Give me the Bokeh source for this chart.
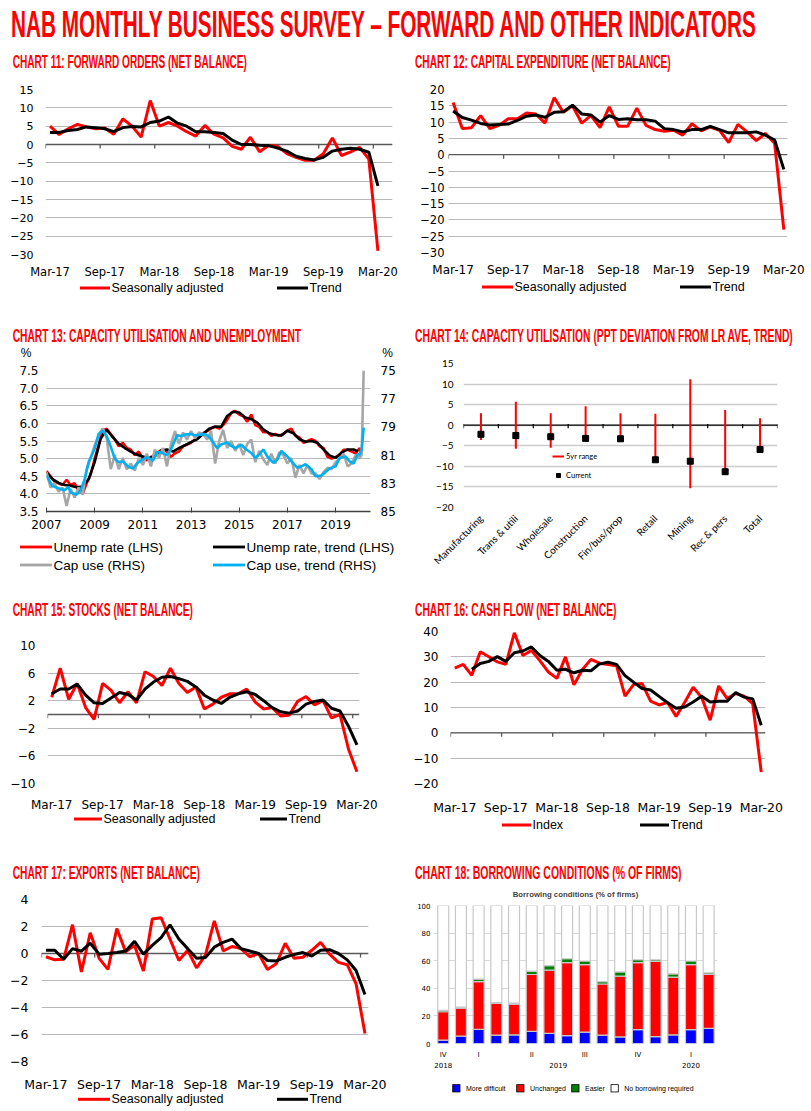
import math
import numpy as np
import pandas as pd
from bokeh.plotting import figure
from bokeh.models import (Range1d, LinearAxis, FixedTicker, Span, Legend, LegendItem,
                          Div, ColumnDataSource, NumeralTickFormatter)
from bokeh.layouts import column, row
from bokeh.embed import file_html
from bokeh.resources import INLINE

# ------------------------------------------------------------------ data
months = list(pd.date_range("2017-03-01", periods=37, freq="MS").strftime("%b-%y"))

fwd_sa = [5.0, 2.7, 4.3, 5.5, 4.8, 4.3, 4.5, 2.8, 7.0, 5.0,
          2.0, 12.0, 5.0, 6.0, 5.0, 3.5, 2.3, 5.2, 2.8, 1.8,
          -0.5, -1.3, 2.0, -2.0, -0.3, -0.5, -2.5, -3.5, -4.3, -4.3,
          -2.5, 1.8, -3.0, -2.0, -0.8, -4.0, -29.0]
fwd_trend = [3.3, 3.3, 3.8, 4.1, 4.8, 4.6, 4.3, 3.5, 4.6, 4.9,
             4.8, 6.0, 6.4, 7.5, 5.8, 5.0, 3.5, 3.5, 3.3, 3.0,
             1.2, 0.0, 0.0, -0.2, -0.3, -1.0, -1.8, -3.2, -3.8, -4.2,
             -3.5, -1.8, -1.3, -1.0, -1.3, -2.1, -11.3]

capex_sa = [16.0, 8.0, 8.3, 12.0, 8.0, 9.0, 11.0, 11.0, 12.8, 12.5,
            9.7, 17.5, 13.0, 15.0, 9.7, 12.0, 8.3, 14.7, 8.7, 8.7,
            14.3, 9.0, 7.7, 7.2, 7.5, 6.0, 9.5, 7.3, 8.5, 7.5,
            3.7, 9.3, 7.0, 4.3, 6.5, 3.5, -23.0]
capex_trend = [13.4, 11.4, 10.6, 9.6, 9.1, 9.3, 9.4, 10.5, 11.8, 12.2,
               11.5, 13.0, 13.2, 15.2, 12.5, 12.2, 10.0, 12.0, 10.8, 11.0,
               10.7, 10.7, 10.3, 8.0, 7.7, 7.0, 7.7, 7.7, 8.7, 7.7,
               6.7, 6.7, 6.7, 7.0, 6.0, 4.5, -4.5]

stocks_sa = [2.5, 6.7, 2.2, 4.5, 1.0, -0.7, 4.5, 3.5, 1.7, 3.3,
             1.7, 6.2, 5.5, 4.2, 6.7, 4.5, 3.2, 4.0, 0.8, 1.5,
             2.5, 3.0, 3.0, 3.7, 1.8, 0.8, 1.0, -0.2, -0.1, 1.9,
             2.6, 1.4, 2.0, -0.5, 0.0, -5.0, -8.3]
stocks_trend = [3.0, 3.7, 3.7, 4.4, 2.8, 1.7, 1.6, 2.4, 3.2, 2.9,
                2.1, 3.7, 4.7, 5.4, 5.5, 5.2, 4.8, 4.0, 2.8, 2.1,
                1.6, 2.5, 3.0, 3.3, 2.9, 2.0, 1.0, 0.4, 0.2, 0.5,
                1.5, 1.9, 2.1, 0.9, 0.5, -1.7, -4.4]

cash_index = [25.5, 27.0, 22.7, 32.0, 30.0, 28.0, 27.0, 39.5, 30.5, 32.5,
              28.5, 24.0, 21.5, 30.0, 19.0, 25.0, 29.0, 27.5, 27.0, 26.5,
              14.5, 19.0, 19.5, 12.5, 11.0, 12.0, 6.5, 12.0, 18.0, 14.0,
              5.0, 18.5, 13.5, 15.5, 14.5, 11.5, -15.5]
cash_trend = [np.nan, np.nan, 25.1, 27.4, 28.2, 30.1, 28.2, 31.6, 32.3, 33.9,
              30.5, 28.2, 24.7, 25.1, 23.7, 24.7, 24.5, 27.2, 27.9, 27.0,
              22.6, 20.0, 17.5, 16.9, 14.4, 11.9, 9.7, 10.2, 12.2, 14.4,
              12.2, 12.5, 12.5, 15.9, 14.1, 13.4, 3.0]

exports_sa = [-0.24, -0.47, -0.43, 2.13, -1.37, 1.54, -0.36, -1.18, 1.85, 0.12,
              0.6, -1.3, 2.56, 2.65, 1.07, -0.52, 0.24, -1.07, -0.12, 2.42,
              0.19, 0.52, 0.36, -0.24, 0.0, -1.18, -0.76, 0.76, -0.36, -0.28,
              0.24, 0.83, -0.05, -0.66, -0.83, -2.25, -5.92]
exports_trend = [0.24, 0.24, -0.43, 0.36, 0.17, 0.76, -0.05, 0.0, 0.07, 0.19,
                 0.9, -0.05, 0.6, 1.18, 2.13, 1.07, 0.36, -0.36, -0.3, 0.47,
                 0.83, 1.07, 0.36, 0.19, 0.0, -0.52, -0.55, -0.28, -0.07, 0.07,
                 -0.19, 0.24, 0.28, 0.0, -0.47, -1.26, -3.03]

# chart 13
ue_dates = list(pd.date_range("2007-01-01", periods=79, freq="2MS").strftime("%Y-%m")) + ["2020-02"]
ue_rate = [4.65, 4.5, 4.35, 4.3, 4.25, 4.4,
           4.25, 4.3, 4.1, 4.0, 4.3, 4.55,
           5.0, 5.4, 5.8, 5.85, 5.7, 5.55,
           5.35, 5.45, 5.3, 5.25, 5.1, 5.2,
           5.0, 4.95, 5.05, 5.1, 5.2, 5.25,
           5.2, 5.05, 5.15, 5.2, 5.35, 5.4,
           5.45, 5.55, 5.6, 5.72, 5.78, 5.85,
           5.9, 5.85, 5.95, 6.1, 6.3, 6.35,
           6.25, 6.2, 6.05, 6.25, 5.95, 5.9,
           5.75, 5.75, 5.65, 5.7, 5.65, 5.7,
           5.8, 5.85, 5.65, 5.6, 5.45, 5.5,
           5.55, 5.5, 5.35, 5.3, 5.05, 5.0,
           5.05, 5.1, 5.25, 5.25, 5.2, 5.15,
           5.3, 5.1]
ue_trend_dates = list(pd.date_range("2007-01-01", periods=52, freq="3MS").strftime("%Y-%m")) + ["2019-12"]
ue_trend = [4.61, 4.42, 4.31, 4.25, 4.23, 4.19, 4.21, 4.42,
            4.90, 5.57, 5.82, 5.61, 5.42, 5.30, 5.20, 5.11,
            5.06, 5.01, 5.07, 5.23, 5.26, 5.20, 5.30, 5.38,
            5.47, 5.55, 5.70, 5.85, 5.91, 5.90, 6.21, 6.33,
            6.31, 6.17, 6.12, 6.02, 5.83, 5.72, 5.67, 5.66,
            5.79, 5.72, 5.55, 5.48, 5.50, 5.45, 5.26, 5.09,
            5.02, 5.17, 5.26, 5.26, 5.21]
cap_dates = list(pd.date_range("2007-01-01", periods=79, freq="2MS").strftime("%Y-%m")) + ["2020-02", "2020-03"]
cap_use = [82.2, 83.3, 83.0, 83.6, 83.3, 84.6,
           83.4, 84.0, 83.3, 83.8, 82.0, 81.2,
           80.3, 79.6, 79.1, 79.8, 82.0, 81.0,
           82.0, 81.2, 82.0, 81.6, 82.1, 81.2,
           81.7, 80.9, 81.8, 80.6, 81.2, 80.5,
           81.8, 80.2, 79.3, 80.2, 79.4, 79.9,
           79.3, 79.8, 79.4, 79.5, 79.9, 79.3,
           81.6, 80.0, 79.2, 80.5, 80.0, 80.7,
           80.2, 81.0, 80.2, 79.9, 81.5, 80.7,
           81.3, 81.7, 80.9, 81.6, 80.8, 81.0,
           81.6, 81.2, 82.6, 81.7, 82.3, 81.7,
           82.3, 82.3, 82.7, 82.2, 81.9, 82.0,
           81.5, 81.3, 80.9, 81.8, 81.6, 81.0,
           81.2, 81.0, 75.0]
cap_trend_dates = ["2007-01", "2007-04", "2007-07", "2007-10", "2007-12", "2008-01", "2008-04",
                   "2008-06", "2008-08", "2008-10", "2009-01", "2009-03", "2009-05", "2009-07",
                   "2009-09", "2009-11", "2010-01", "2010-03", "2010-06", "2010-08", "2010-10",
                   "2011-01", "2011-03", "2011-06", "2011-08", "2011-10", "2012-01", "2012-03",
                   "2012-06", "2012-08", "2012-10", "2013-01", "2013-03", "2013-06", "2013-08",
                   "2013-10", "2014-02", "2014-04", "2014-07", "2014-09", "2014-11", "2015-02",
                   "2015-04", "2015-07", "2015-09", "2015-11", "2016-01", "2016-03", "2016-06",
                   "2016-08", "2016-10", "2017-01", "2017-03", "2017-06", "2017-08", "2017-10",
                   "2018-01", "2018-03", "2018-06", "2018-08", "2018-10", "2019-01", "2019-03",
                   "2019-06", "2019-08", "2019-10", "2019-12", "2020-01", "2020-02", "2020-03"]
cap_trend = [82.45, 83.2, 83.35, 83.5, 83.25, 83.65, 83.8,
             83.5, 82.7, 81.5, 80.55, 79.5, 79.25, 79.65,
             80.4, 81.25, 81.5, 81.45, 81.85, 81.95, 81.6,
             81.3, 81.15, 81.4, 80.8, 80.8, 81.0, 80.6,
             79.6, 79.65, 79.55, 79.5, 79.6, 79.55, 79.5,
             79.7, 80.5, 80.25, 80.1, 80.35, 80.5, 80.25,
             80.55, 80.85, 81.2, 80.95, 80.6, 81.1, 81.55,
             81.3, 80.7, 81.1, 81.45, 81.9, 81.8, 81.65,
             82.0, 82.5, 82.45, 82.2, 81.95, 81.8, 81.2,
             81.1, 81.45, 81.6, 80.95, 80.95, 80.6, 79.05]
year_ticks13 = [2007, 2009, 2011, 2013, 2015, 2017, 2019]
cap_ticks13 = [75, 77, 79, 81, 83, 85]

# chart 14
sectors = ["Manufacturing", "Trans & utili", "Wholesale", "Construction", "Fin/bus/prop",
           "Retail", "Mining", "Rec & pers", "Total"]
range_high = [2.9, 5.7, 2.9, 4.6, 2.9, 2.8, 11.2, 3.7, 1.7]
range_low = [-3.6, -5.7, -5.5, -3.2, -3.3, -8.4, -15.3, -11.3, -5.9]
current = [-2.2, -2.5, -2.8, -3.2, -3.3, -8.4, -8.75, -11.3, -5.9]

# chart 18
more_difficult = [2.4, 5.3, 10.2, 6.0, 6.2, 8.8, 7.4, 5.7, 8.3, 6.0, 4.8, 10.0, 5.0, 6.2, 10.0, 11.0]
unchanged = [20.6, 20.4, 34.6, 23.0, 22.4, 41.2, 45.7, 52.9, 48.8, 37.1, 44.0, 48.6, 54.5, 41.9, 47.1, 39.0]
easier = [1.1, 0.6, 1.9, 0.6, 0.6, 2.4, 3.3, 2.8, 2.7, 1.7, 3.1, 2.1, 1.2, 2.4, 2.7, 1.2]
no_borrowing = [75.9, 73.7, 53.3, 70.4, 70.8, 47.6, 43.6, 38.6, 40.2, 55.2, 48.1, 39.3, 39.3, 49.5, 40.2, 48.8]
quarter_pos = [1, 3, 6, 9, 12, 15]
quarter_labels = ["IV", "I", "II", "III", "IV", "I"]
year_pos = [1, 7.5, 15]
year_labels = ["2018", "2019", "2020"]

# ------------------------------------------------------------------ style
RED = "#ff0000"
GREY = "#a6a6a6"
SKY = "#00b0f0"
GRID = "#b9b9b9"
AXIS = "#595959"
TICK_FONT = "DejaVu Sans"
LEG_FONT = "Lato"

# Arial / Liberation Sans Bold advance widths (1/1000 em) for fitting the condensed headings
_AB = {" ": 278, "%": 889, "&": 722, "(": 333, ")": 333, ",": 278, "-": 333, ".": 278,
       "/": 278, ":": 333, "\u2013": 556}
_AB.update({d: 556 for d in "0123456789"})
_AB.update(dict(zip("ABCDEFGHIJKLMNOPQRSTUVWXYZ",
                    [722, 722, 722, 722, 667, 611, 778, 722, 278, 556, 722, 611, 833,
                     722, 778, 667, 778, 722, 667, 611, 722, 667, 944, 667, 667, 611])))


def dec_year(s):
    y, m = s.split("-")
    return int(y) + (int(m) - 1) / 12.0


def title_div(text, width, height, x, baseline, size, target, extra=""):
    natural = sum(_AB.get(c, 600) for c in text) * size / 1000.0
    sx = target / natural
    html_text = text.replace("\u2013", "&#8211;")
    html = (f'<svg width="{width}" height="{height}" style="display:block;overflow:visible">'
            f'<text transform="translate({x},{baseline}) scale({sx:.4f},1)" '
            f'font-family="Liberation Sans, Arial, sans-serif" font-weight="bold" '
            f'font-size="{size}" fill="#ff0000">{html_text}</text>{extra}</svg>')
    return Div(text=html, width=width, height=height, margin=(0, 0, 0, 0))


def legend_div(width, height, entries, font, size, lw=3):
    parts = []
    for kind, a, b, y, label, color in entries:
        if kind == "line":
            parts.append(f'<line x1="{a}" y1="{y}" x2="{b}" y2="{y}" stroke="{color}" '
                         f'stroke-width="{lw}"/>')
            tx = b + 1.5
        else:
            parts.append(f'<rect x="{a}" y="{y - b / 2}" width="{b}" height="{b}" fill="{color}" '
                         f'stroke="#000" stroke-width="0.8"/>')
            tx = a + b + 6
        parts.append(f'<text x="{tx}" y="{y}" dominant-baseline="central" font-family="{font}" '
                     f'font-size="{size}" fill="#000">{label}</text>')
    html = (f'<svg width="{width}" height="{height}" style="display:block;overflow:visible">'
            f'{"".join(parts)}</svg>')
    return Div(text=html, width=width, height=height, margin=(0, 0, 0, 0))


def base_fig(geom, x_range, y_range):
    left, fw, right, top, fh, bottom = geom
    p = figure(width=left + fw + right, height=top + fh + bottom,
               min_border_left=left, min_border_right=right,
               min_border_top=top, min_border_bottom=bottom, x_range=x_range, y_range=y_range,
               output_backend="svg", toolbar_location=None, margin=(0, 0, 0, 0))
    p.outline_line_color = None
    p.border_fill_color = "white"
    p.background_fill_color = "white"
    p.xgrid.visible = False
    return p


def style_axis(ax, font, size, standoff, line=False):
    if not line:
        ax.axis_line_color = None
        ax.major_tick_line_color = None
        ax.major_tick_out = 0
        ax.major_tick_in = 0
    ax.minor_tick_line_color = None
    ax.minor_tick_out = 0
    ax.minor_tick_in = 0
    ax.major_label_text_font = font
    ax.major_label_text_font_size = size
    ax.major_label_text_color = "#000000"
    ax.major_label_standoff = standoff


def y_ticks(lo, hi, step):
    n = int(round((hi - lo) / step))
    return [lo + k * step for k in range(n + 1)]


def line_chart(sa, trend, y_lo, y_hi, y_step, x_end, geom, fs_y, fs_x, y_st, x_st):
    p = base_fig(geom, Range1d(0, x_end), Range1d(y_lo, y_hi))
    fh = geom[4]
    yt = FixedTicker(ticks=y_ticks(y_lo, y_hi, y_step))
    p.yaxis.ticker = yt
    p.ygrid.ticker = yt
    p.ygrid.grid_line_color = GRID
    p.ygrid.grid_line_width = 1
    style_axis(p.yaxis[0], TICK_FONT, fs_y, y_st)
    style_axis(p.xaxis[0], TICK_FONT, fs_x, x_st)
    centers = [i + 0.5 for i in range(len(months))]
    lab_idx = list(range(0, len(months), 6))
    p.xaxis.ticker = FixedTicker(ticks=[centers[i] for i in lab_idx])
    p.xaxis.major_label_overrides = {centers[i]: months[i] for i in lab_idx}
    p.add_layout(Span(location=0, dimension="width", line_color=AXIS, line_width=1.3,
                      level="underlay"))
    tl = 4.0 * (y_hi - y_lo) / fh
    p.segment(x0=lab_idx, y0=[0] * len(lab_idx), x1=lab_idx, y1=[-tl] * len(lab_idx),
              line_color=AXIS, line_width=1.3)
    p.line(centers, np.array(sa, dtype=float), line_color=RED, line_width=3)
    p.line(centers, np.array(trend, dtype=float), line_color="black", line_width=3)
    return p


# ------------------------------------------------------------------ charts 11, 12, 15, 16, 17
p11 = line_chart(fwd_sa, fwd_trend, -30, 15, 5, 38.1, (45, 347, 8, 15, 166, 26),
                 "11px", "11.5px", 12, 10)
l11 = legend_div(400, 46, [("line", 80, 110, 7, "Seasonally adjusted", RED),
                           ("line", 277, 308, 7, "Trend", "black")], LEG_FONT, 12.5)
p12 = line_chart(capex_sa, capex_trend, -30, 20, 5, 36.9, (48, 339, 24, 15, 164, 26),
                 "11.5px", "12px", 4, 10)
l12 = legend_div(411, 48, [("line", 82, 113, 8, "Seasonally adjusted", RED),
                           ("line", 280, 311, 8, "Trend", "black")], LEG_FONT, 12.5)
p15 = line_chart(stocks_sa, stocks_trend, -10, 10, 4, 36.8, (47, 312, 41, 24, 143, 26),
                 "12px", "12px", 12, 14)
l15 = legend_div(400, 50, [("line", 74, 102, 5, "Seasonally adjusted", RED),
                           ("line", 260, 287, 5, "Trend", "black")], LEG_FONT, 12.5)
p16 = line_chart(cash_index, cash_trend, -20, 40, 10, 37.0, (50, 315, 46, 10, 158, 28),
                 "12px", "12.5px", 12, 16)
l16 = legend_div(411, 47, [("line", 102, 131, 8, "Index", RED),
                           ("line", 240, 269, 8, "Trend", "black")], LEG_FONT, 12.5)
p17 = line_chart(exports_sa, exports_trend, -8, 4, 2, 36.9, (41, 327, 32, 13, 167, 28),
                 "12.5px", "12.5px", 13, 15)
l17 = legend_div(400, 16, [("line", 78, 110, 5.3, "Seasonally adjusted", RED),
                           ("line", 277, 308, 5.3, "Trend", "black")], LEG_FONT, 12.5)

# ------------------------------------------------------------------ chart 13
p13 = base_fig((46, 324, 30, 12, 141, 21), Range1d(2007, 2020.45), Range1d(3.5, 7.5))
p13.extra_y_ranges = {"cap": Range1d(start=85, end=75)}
yt13 = FixedTicker(ticks=y_ticks(3.5, 7.5, 0.5))
p13.yaxis.ticker = yt13
p13.ygrid.ticker = yt13
p13.yaxis.formatter = NumeralTickFormatter(format="0.0")
p13.ygrid.grid_line_color = GRID
style_axis(p13.yaxis[0], TICK_FONT, "12px", 8)
xa13 = p13.xaxis[0]
style_axis(xa13, TICK_FONT, "12px", 7, line=True)
xa13.ticker = FixedTicker(ticks=year_ticks13)
xa13.formatter = NumeralTickFormatter(format="0")
xa13.axis_line_color = "#404040"
xa13.axis_line_width = 1.3
xa13.major_tick_line_color = "#404040"
xa13.major_tick_in = 4
xa13.major_tick_out = 1
ra13 = LinearAxis(y_range_name="cap", ticker=FixedTicker(ticks=cap_ticks13))
style_axis(ra13, TICK_FONT, "12px", 10)
p13.add_layout(ra13, "right")
p13.line([dec_year(d) for d in ue_dates], ue_rate, line_color=RED, line_width=2.6)
p13.line([dec_year(d) for d in ue_trend_dates], ue_trend, line_color="black", line_width=2.6)
p13.line([dec_year(d) for d in cap_dates], cap_use, line_color=GREY, line_width=2.6,
         y_range_name="cap")
p13.line([dec_year(d) for d in cap_trend_dates], cap_trend, line_color=SKY,
         line_width=2.6, y_range_name="cap")
l13 = legend_div(400, 67, [("line", 20, 52, 15, "Unemp rate (LHS)", RED),
                           ("line", 213, 245, 15, "Unemp rate, trend (LHS)", "black"),
                           ("line", 20, 52, 33, "Cap use (RHS)", GREY),
                           ("line", 213, 245, 33, "Cap use, trend (RHS)", SKY)],
                 LEG_FONT, 13.5, lw=2.8)

# ------------------------------------------------------------------ chart 14
p14 = base_fig((63, 314, 34, 14, 144, 92), Range1d(0, len(sectors)), Range1d(-20, 15))
yt14 = FixedTicker(ticks=y_ticks(-20, 15, 5))
p14.yaxis.ticker = yt14
p14.ygrid.ticker = yt14
p14.ygrid.grid_line_color = "#cccccc"
p14.ygrid.grid_line_width = 1.3
style_axis(p14.yaxis[0], LEG_FONT, "10px", 10)
style_axis(p14.xaxis[0], LEG_FONT, "10px", 9)
xc14 = [i + 0.5 for i in range(len(sectors))]
p14.xaxis.ticker = FixedTicker(ticks=xc14)
p14.xaxis.major_label_overrides = {xc14[i]: sectors[i] for i in range(len(sectors))}
p14.xaxis.major_label_orientation = math.pi / 4
p14.add_layout(Span(location=0, dimension="width", line_color="black", line_width=1.3,
                    level="underlay"))
b14 = list(range(len(sectors) + 1))
tl14 = 3.0 * 35 / 144
p14.segment(x0=b14, y0=[tl14 * 0.4] * len(b14), x1=b14, y1=[-tl14] * len(b14),
            line_color="black", line_width=1.2)
seg14 = p14.segment(x0=xc14, y0=range_low, x1=xc14, y1=range_high, line_color=RED, line_width=2)
sq14 = p14.scatter(xc14, current, marker="square", size=6, fill_color="black", line_color="black")
leg14 = Legend(items=[LegendItem(label="5yr range", renderers=[seg14]),
                      LegendItem(label="Current", renderers=[sq14])],
               location=(89, 27), orientation="vertical", glyph_width=12, glyph_height=10,
               label_height=10, label_standoff=2, spacing=9, padding=0, margin=0,
               border_line_color=None, background_fill_alpha=0, label_text_font=LEG_FONT,
               label_text_font_size="7.5px", label_text_color="black")
p14.add_layout(leg14)

# ------------------------------------------------------------------ chart 18
p18 = base_fig((33, 284, 94, 22, 140, 27), Range1d(0.45, 16.5), Range1d(0, 100))
yt18 = FixedTicker(ticks=y_ticks(0, 100, 20))
p18.yaxis.ticker = yt18
p18.ygrid.ticker = yt18
p18.ygrid.grid_line_color = "#d9d9d9"
style_axis(p18.yaxis[0], TICK_FONT, "7px", 3)
qa = p18.xaxis[0]
style_axis(qa, TICK_FONT, "7px", 7)
qa.ticker = FixedTicker(ticks=quarter_pos)
qa.major_label_overrides = {quarter_pos[i]: quarter_labels[i] for i in range(len(quarter_pos))}
ya = LinearAxis(ticker=FixedTicker(ticks=year_pos),
                major_label_overrides={year_pos[i]: year_labels[i] for i in range(len(year_pos))})
style_axis(ya, TICK_FONT, "7px", 0)
p18.add_layout(ya, "below")
bars = list(range(1, len(more_difficult) + 1))
src18 = ColumnDataSource(dict(x=bars, more=more_difficult, unch=unchanged, easier=easier,
                              none=no_borrowing))
bar_colors = ["#0000ff", "#ff0000", "#008000", "#ffffff"]
p18.vbar_stack(["more", "unch", "easier", "none"], x="x", width=0.62, source=src18,
               fill_color=bar_colors, line_color="#c8c8c8", line_width=1.2)
p18.title.text = "Borrowing conditions (% of firms)"
p18.title.align = "center"
p18.title.text_font = "Liberation Sans"
p18.title.text_font_style = "bold"
p18.title.text_font_size = "7.8px"
p18.title.standoff = 13
leg_names18 = ["More difficult", "Unchanged", "Easier", "No borrowing required"]
sq_left18 = [52.7, 116.7, 171.7, 211.0]
l18 = legend_div(411, 40, [("square", sq_left18[i], 7.3, 18.3, leg_names18[i], bar_colors[i])
                           for i in range(4)], TICK_FONT, 7)

# ------------------------------------------------------------------ layout
main_title = title_div("NAB MONTHLY BUSINESS SURVEY \u2013 FORWARD AND OTHER INDICATORS",
                       811, 52, 11, 36.5, 37, 752)
d11 = title_div("CHART 11: FORWARD ORDERS (NET BALANCE)", 400, 22, 12.7, 16.3, 19, 235.7)
d12 = title_div("CHART 12: CAPITAL EXPENDITURE (NET BALANCE)", 411, 22, 15, 16.3, 19, 256.7)
pct = ('<text x="26" y="30" text-anchor="middle" font-family="DejaVu Sans" font-size="12" '
       'fill="#000">%</text><text x="387.5" y="30" text-anchor="middle" '
       'font-family="DejaVu Sans" font-size="12" fill="#000">%</text>')
d13 = title_div("CHART 13: CAPACITY UTILISATION AND UNEMPLOYMENT", 400, 31, 12.7, 15, 19, 290.7,
                extra=pct)
d14 = title_div("CHART 14: CAPACITY UTILISATION (PPT DEVIATION FROM LR AVE, TREND)",
                411, 22, 15, 15, 19, 381.7)
d15 = title_div("CHART 15: STOCKS (NET BALANCE)", 400, 22, 12.7, 16.7, 19, 180.6)
d16 = title_div("CHART 16: CASH FLOW (NET BALANCE)", 411, 22, 15, 16.7, 19, 201.7)
d17 = title_div("CHART 17: EXPORTS (NET BALANCE)", 400, 22, 12.7, 15.3, 19, 187.3)
d18 = title_div("CHART 18: BORROWING CONDITIONS (% OF FIRMS)", 411, 17, 15, 15.3, 19, 266.7)

page = column(
    main_title,
    row(column(d11, p11, l11), column(d12, p12, l12)),
    row(column(d13, p13, l13), column(d14, p14)),
    row(column(d15, p15, l15), column(d16, p16, l16)),
    row(column(d17, p17, l17), column(d18, p18, l18)),
)

open("out.html", "w").write(file_html(page, INLINE))
